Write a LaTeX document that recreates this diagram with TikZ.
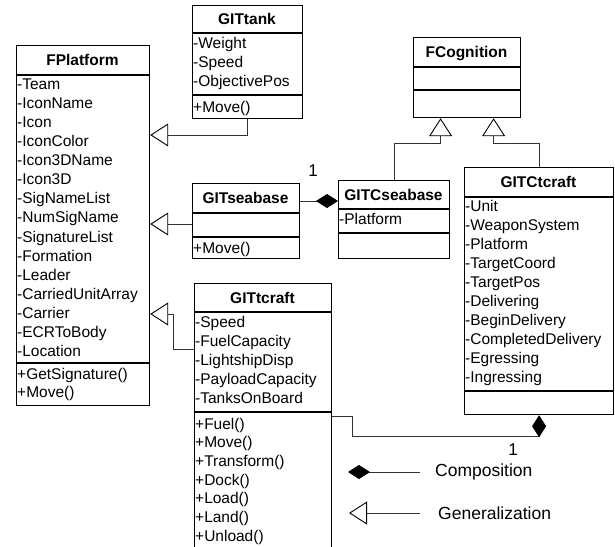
\documentclass[tikz,border=0pt]{standalone}
\usepackage{fontspec}
\setmainfont{Liberation Sans}
\usetikzlibrary{arrows.meta}

\begin{document}
\begin{tikzpicture}[x=1pt, y=-1pt, font=\fontsize{15.5}{18}\selectfont,
    classbox/.style={draw, line width=1.2pt, anchor=north west, inner sep=0pt},
    member/.style={anchor=base west, inner sep=0pt},
    classname/.style={anchor=base, inner sep=0pt, font=\fontsize{15.5}{18}\selectfont\bfseries},
    legendtext/.style={anchor=west, inner sep=0pt, font=\fontsize{17.5}{20}\selectfont},
    sep/.style={line width=1.2pt},
    gen/.style={draw=black!80, line width=0.9pt, -{Triangle[open, length=18pt, width=23pt, color=black]}},
    comp/.style={draw=black!80, line width=0.9pt, -{Diamond[length=22pt, width=14pt, color=black]}}]
    \useasboundingbox (0,0) rectangle (615,546);

    % FPlatform
    \node[classbox, minimum width=133pt, minimum height=360pt] (platform) at (16,45) {};
    \node[classname] (platformname) at (82.5,65.5) {FPlatform};
    \draw[sep] (platform.west |- 0,75) -- (platform.east |- 0,75)
               (platform.west |- 0,363) -- (platform.east |- 0,363);
    \foreach \attr [count=\i] in {Team,IconName,Icon,IconColor,Icon3DName,Icon3D,SigNameList,NumSigName,
        SignatureList,Formation,Leader,CarriedUnitArray,Carrier,ECRToBody,Location} {
        \node[member] (platforma\i) at (17,{89+(\i-1)*19.14}) {-\attr};
    }
    \foreach \op [count=\i] in {GetSignature(),Move()} {
        \node[member] (platformo\i) at (17,{379+(\i-1)*18.5}) {+\op};
    }

    % GITtank
    \node[classbox, minimum width=110pt, minimum height=113pt] (tank) at (192,5) {};
    \node[classname] (tankname) at (247,24.5) {GITtank};
    \draw[sep] (tank.west |- 0,33) -- (tank.east |- 0,33)
               (tank.west |- 0,95) -- (tank.east |- 0,95);
    \foreach \attr [count=\i] in {Weight,Speed,ObjectivePos} {
        \node[member] (tanka\i) at (193,{48+(\i-1)*19}) {-\attr};
    }
    \node[member] (tanko1) at (193,112) {+Move()};

    % GITseabase
    \node[classbox, minimum width=107pt, minimum height=75pt] (seabase) at (192,183) {};
    \node[classname] (seabasename) at (245.5,203.5) {GITseabase};
    \draw[sep] (seabase.west |- 0,213) -- (seabase.east |- 0,213)
               (seabase.west |- 0,237) -- (seabase.east |- 0,237);
    \node[member] (seabaseo1) at (193,253) {+Move()};

    % GITCseabase
    \node[classbox, minimum width=111pt, minimum height=78pt] (cseabase) at (338,180) {};
    \node[classname] (cseabasename) at (393.5,200) {GITCseabase};
    \draw[sep] (cseabase.west |- 0,209) -- (cseabase.east |- 0,209)
               (cseabase.west |- 0,233) -- (cseabase.east |- 0,233);
    \node[member] (cseabasea1) at (339,224) {-Platform};

    % FCognition
    \node[classbox, minimum width=107pt, minimum height=80pt] (cognition) at (413,37) {};
    \node[classname] (cognitionname) at (466.5,57.5) {FCognition};
    \draw[sep] (cognition.west |- 0,67) -- (cognition.east |- 0,67)
               (cognition.west |- 0,90) -- (cognition.east |- 0,90);

    % GITCtcraft
    \node[classbox, minimum width=149pt, minimum height=247pt] (ctcraft) at (464,167) {};
    \node[classname] (ctcraftname) at (538.5,187.5) {GITCtcraft};
    \draw[sep] (ctcraft.west |- 0,197) -- (ctcraft.east |- 0,197)
               (ctcraft.west |- 0,391) -- (ctcraft.east |- 0,391);
    \foreach \attr [count=\i] in {Unit,WeaponSystem,Platform,TargetCoord,TargetPos,Delivering,
        BeginDelivery,CompletedDelivery,Egressing,Ingressing} {
        \node[member] (ctcrafta\i) at (465,{211+(\i-1)*19.1}) {-\attr};
    }

    % GITtcraft (runs off the bottom)
    \node[classbox, minimum width=137pt, minimum height=265pt] (tcraft) at (194,283) {};
    \node[classname] (tcraftname) at (262.5,303) {GITtcraft};
    \draw[sep] (tcraft.west |- 0,312) -- (tcraft.east |- 0,312)
               (tcraft.west |- 0,412) -- (tcraft.east |- 0,412);
    \foreach \attr [count=\i] in {Speed,FuelCapacity,LightshipDisp,PayloadCapacity,TanksOnBoard} {
        \node[member] (tcrafta\i) at (195,{327+(\i-1)*19}) {-\attr};
    }
    \foreach \op [count=\i] in {Fuel(),Move(),Transform(),Dock(),Load(),Land(),Unload()} {
        \node[member] (tcrafto\i) at (195,{429+(\i-1)*18.7}) {+\op};
    }

    % generalization
    \draw[gen] (tank.south) |- (platform.east |- 0,135);
    \draw[gen] (seabase.west |- 0,224) -- (platform.east |- 0,224);
    \draw[gen] (tcraft.west |- 0,349) -| (173,314) -- (platform.east |- 0,314);
    \draw[gen] (cseabase.north) |- ([xshift=-26.5pt]cognition.south |- 0,143)
               -- ([xshift=-26.5pt]cognition.south);
    \draw[gen] (ctcraft.north) |- ([xshift=26.5pt]cognition.south |- 0,143)
               -- ([xshift=26.5pt]cognition.south);

    % composition
    \draw[comp] (seabase.east |- 0,201) -- (cseabase.west |- 0,201);
    \node[font=\fontsize{17}{20}\selectfont] (seabasemult) at (313,171) {1};
    \draw[comp] (tcraft.east |- 0,416) -- (352,416) |- (ctcraft.south |- 0,436) -- (ctcraft.south);
    \node[font=\fontsize{17}{20}\selectfont] (ctcraftmult) at (513,450) {1};

    % legend
    \coordinate (compfrom) at (420,472);
    \coordinate (compto) at (348,472);
    \draw[comp] (compfrom) -- (compto);
    \node[legendtext] (complabel) at (435,472) {Composition};
    \coordinate (genfrom) at (420,513);
    \coordinate (gento) at (349,513);
    \draw[gen] (genfrom) -- (gento);
    \node[legendtext] (genlabel) at (438,513) {Generalization};
\end{tikzpicture}
\end{document}
